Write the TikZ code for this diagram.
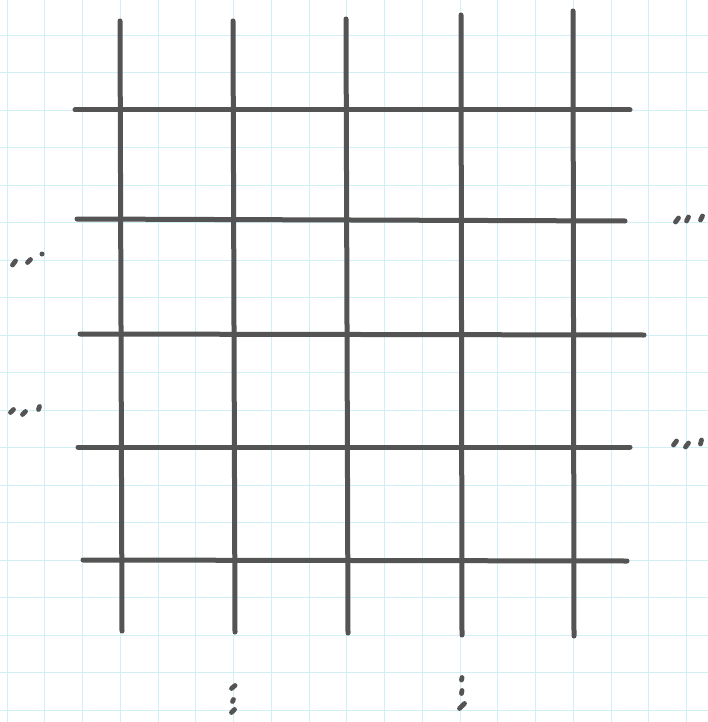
\documentclass[tikz,border=0pt]{standalone}
\usepackage{tikz}

\definecolor{paperline}{RGB}{208,240,245}
\definecolor{pen}{RGB}{84,84,84}

\begin{document}
\begin{tikzpicture}[x=1pt,y=-1pt,
  paper/.style={draw=paperline,line width=0.9pt},
  penline/.style={draw=pen,line width=5pt,line cap=round},
  dotstroke/.style={draw=pen,line width=4.8pt,line cap=round}]
\useasboundingbox (0,0) rectangle (708,722);
\path[fill=white] (0,0) rectangle (708,722);
% objects at depth 90 (squared paper):
\foreach \i in {0,...,18}
  \path[paper] (7+37.75*\i,0) -- (7+37.75*\i,722);
\foreach \j in {0,...,19}
  \path[paper] (0,-2.5+37.5*\j) -- (708,-2.5+37.5*\j);
% objects at depth 50 (horizontal strokes):
\path[penline] (75,110) -- (630,110);
\path[penline] (77,219) -- (625,221);
\path[penline] (80,334) -- (644,335);
\path[penline] (78,447) -- (630,447);
\path[penline] (83,560) -- (627,561);
% objects at depth 40 (vertical strokes):
\path[penline] (120,21) -- (122,631);
\path[penline] (233,21) -- (235,632);
\path[penline] (346,19) -- (348,633);
\path[penline] (461,15) -- (462,635);
\path[penline] (573,11) -- (574,636);
% objects at depth 30 (dots left):
\path[dotstroke] (12.5,265) -- (15.5,261);
\path[dotstroke] (27.5,262.5) -- (30.5,259.5);
\path[fill=pen] (42,254) circle (2.5);
\path[dotstroke] (10.5,412.5) -- (13.5,409.5);
\path[dotstroke] (22.5,414.5) -- (25.5,411.5);
\path[dotstroke] (38.5,409.5) -- (39.5,406.5);
% objects at depth 30 (dots right):
\path[dotstroke] (675.5,222) -- (678.5,218);
\path[dotstroke] (686.5,221) -- (688.5,217);
\path[dotstroke] (700.5,220) -- (702.5,216);
\path[dotstroke] (673.5,445) -- (676.5,441);
\path[dotstroke] (685.5,447) -- (688.5,443);
\path[dotstroke] (700.5,444) -- (701.5,440);
% objects at depth 30 (dots below):
\path[dotstroke] (231.5,688.5) -- (235,685.5);
\path[dotstroke] (232.5,701.5) -- (233.5,699.5);
\path[dotstroke] (231.5,712.5) -- (234.5,709.5);
\path[dotstroke] (461.5,680) -- (462,677.5);
\path[dotstroke] (461.5,693.5) -- (462,690.5);
\path[dotstroke] (459.5,708.5) -- (464.5,703.5);
\end{tikzpicture}
\end{document}
